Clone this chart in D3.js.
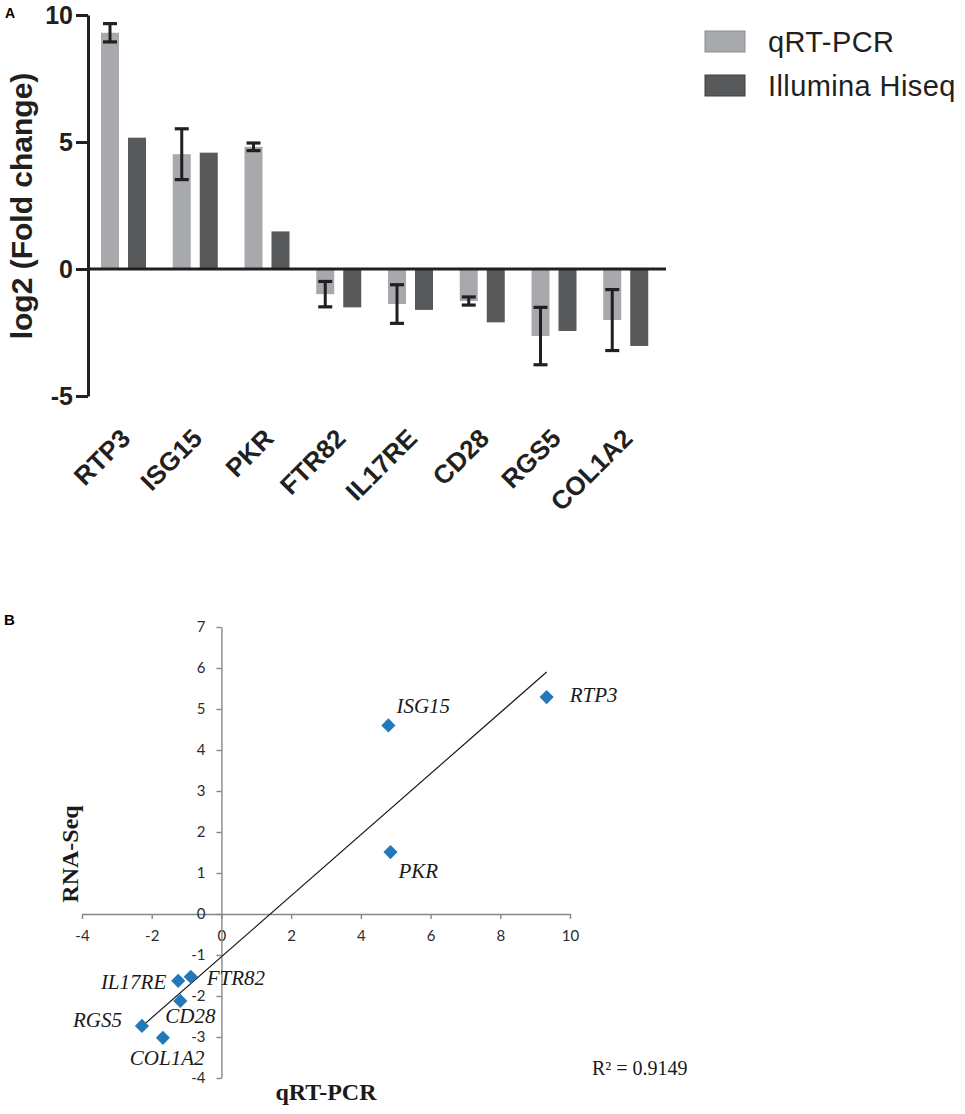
<!DOCTYPE html>
<html><head><meta charset="utf-8">
<script src="https://cdn.jsdelivr.net/npm/d3@7"></script>
<style>body{margin:0;background:#fff}</style>
</head><body>
<svg id="chart" width="965" height="1114"></svg>
<script>
// ---------- data ----------
const genes = ["RTP3","ISG15","PKR","FTR82","IL17RE","CD28","RGS5","COL1A2"];
const seriesNames = ["qRT-PCR","Illumina Hiseq"];
const qrtPcr   = [9.30, 4.52, 4.81, -0.99, -1.38, -1.26, -2.64, -2.01];
const qrtErr   = [0.36, 1.00, 0.15, 0.50, 0.76, 0.16, 1.13, 1.20];
const illumina = [5.17, 4.58, 1.48, -1.51, -1.61, -2.10, -2.44, -3.03];
const yTicksA  = [-5, 0, 5, 10];

const scatterQrt    = [9.33, 4.79, 4.85, -0.88, -1.24, -1.18, -2.28, -1.68];
const scatterRnaSeq = [5.29, 4.60, 1.51, -1.53, -1.63, -2.12, -2.73, -3.02];
const xTicksB = [-4, -2, 0, 2, 4, 6, 8, 10];
const yTicksB = [-4, -3, -2, -1, 0, 1, 2, 3, 4, 5, 6, 7];
const r2Text = "R\u00B2 = 0.9149";

// ---------- layout (not data) ----------
const colLight = "#a7a9ac", colDark = "#58595b", ink = "#231f20";
const labelOffsets = { // dx, dy, anchor for scatter annotations
  RTP3:[23,5,"start"], ISG15:[8,-12,"start"], PKR:[8,26,"start"], FTR82:[16,8,"start"],
  IL17RE:[-12,8,"end"], CD28:[-15,22,"start"], RGS5:[-20,1,"end"], COL1A2:[-33,27,"start"]
};
const plainFmt = d => String(d);

const svg = d3.select("#chart");

// ================= Panel A =================
const sans = "'Liberation Sans', Arial, Helvetica, sans-serif";
const gA = svg.append("g");
const yA = d3.scaleLinear().domain([-5, 10]).range([396, 15]);
const xA = d3.scaleBand().domain(genes).range([88, 662]).padding(0);
const xSub = d3.scaleBand().domain(seriesNames).range([13, 58]).paddingInner(1/3).paddingOuter(0);

svg.append("text").attr("x", 5).attr("y", 18).text("A")
  .style("font-family", sans).style("font-weight", "bold").style("font-size", "14px");

// bars
const barData = [];
genes.forEach((g, i) => {
  barData.push({g, s: seriesNames[0], v: qrtPcr[i]});
  barData.push({g, s: seriesNames[1], v: illumina[i]});
});
gA.selectAll("rect.bar").data(barData).enter().append("rect")
  .attr("class", "bar")
  .attr("x", d => xA(d.g) + xSub(d.s))
  .attr("width", xSub.bandwidth())
  .attr("y", d => yA(Math.max(0, d.v)))
  .attr("height", d => Math.abs(yA(d.v) - yA(0)))
  .attr("fill", d => d.s === seriesNames[0] ? colLight : colDark);

// error bars
const errG = gA.selectAll("g.err").data(genes).enter().append("g").attr("class", "err");
errG.each(function(g, i) {
  const cx = xA(g) + xSub(seriesNames[0]) + xSub.bandwidth() / 2;
  const hi = yA(qrtPcr[i] + qrtErr[i]), lo = yA(qrtPcr[i] - qrtErr[i]);
  const s = d3.select(this);
  s.append("line").attr("x1", cx).attr("x2", cx).attr("y1", hi).attr("y2", lo)
    .attr("stroke", ink).attr("stroke-width", 3);
  [hi, lo].forEach(y => s.append("line").attr("x1", cx - 7).attr("x2", cx + 7)
    .attr("y1", y).attr("y2", y).attr("stroke", ink).attr("stroke-width", 3.2));
});

// zero line
gA.append("line").attr("x1", 88).attr("x2", 666).attr("y1", yA(0)).attr("y2", yA(0))
  .attr("stroke", ink).attr("stroke-width", 3);

// y axis
const axA = gA.append("g").attr("transform", "translate(88,0)")
  .call(d3.axisLeft(yA).tickValues(yTicksA).tickFormat(plainFmt).tickSize(12).tickSizeOuter(0).tickPadding(3));
axA.select(".domain").attr("stroke", ink).attr("stroke-width", 3);
axA.selectAll(".tick line").attr("stroke", ink).attr("stroke-width", 3);
axA.selectAll(".tick text").attr("fill", ink)
  .style("font-family", sans).style("font-weight", "bold").style("font-size", "25px");

gA.append("text").attr("transform", "translate(21,206) rotate(-90)")
  .attr("text-anchor", "middle").attr("dominant-baseline", "central")
  .text("log2 (Fold change)").attr("fill", ink)
  .style("font-family", sans).style("font-weight", "bold").style("font-size", "30px");

// x labels
gA.selectAll("text.xl").data(genes).enter().append("text").attr("class", "xl")
  .attr("transform", g => `translate(${xA(g) + xA.bandwidth() / 2 + 8},440) rotate(-45)`)
  .attr("text-anchor", "end").text(g => g).attr("fill", ink)
  .style("font-family", sans).style("font-weight", "bold").style("font-size", "26px");

// legend
const leg = gA.selectAll("g.leg").data(seriesNames).enter().append("g").attr("class", "leg")
  .attr("transform", (d, i) => `translate(705,${31 + i * 44})`);
leg.append("rect").attr("width", 40).attr("height", 21)
  .attr("fill", (d, i) => i === 0 ? colLight : colDark)
  .attr("stroke", (d, i) => i === 0 ? "#8c8e91" : "#3e3f41").attr("stroke-width", 1);
leg.append("text").attr("x", 63).attr("y", 21).text(d => d).attr("fill", ink)
  .style("font-family", sans).style("font-size", "29px").style("letter-spacing", "0.4px");

// ================= Panel B =================
const serif = "'Liberation Serif', 'Times New Roman', serif";
const gB = svg.append("g");
svg.append("text").attr("x", 4).attr("y", 625).text("B")
  .style("font-family", sans).style("font-weight", "bold").style("font-size", "15px");

const xB = d3.scaleLinear().domain([-4, 10]).range([82, 570]);
const yB = d3.scaleLinear().domain([-4, 7]).range([1078, 627]);
const axisCol = "#878787";

const axX = gB.append("g").attr("transform", `translate(0,${yB(0)})`)
  .call(d3.axisBottom(xB).tickValues(xTicksB).tickFormat(plainFmt).tickSize(5).tickSizeOuter(0).tickPadding(11));
const axY = gB.append("g").attr("transform", `translate(${xB(0)},0)`)
  .call(d3.axisLeft(yB).tickValues(yTicksB).tickFormat(plainFmt).tickSize(5).tickSizeOuter(0).tickPadding(11));
[axX, axY].forEach(a => {
  a.select(".domain").attr("stroke", axisCol).attr("stroke-width", 1.4);
  a.selectAll(".tick line").attr("stroke", axisCol).attr("stroke-width", 1.4);
  a.selectAll(".tick text").attr("fill", "#2b2b2b")
    .style("font-family", "Lato, 'Open Sans', sans-serif").style("font-size", "15px");
});

// regression line from the data
const n = scatterQrt.length;
const mx = d3.mean(scatterQrt), my = d3.mean(scatterRnaSeq);
let sxy = 0, sxx = 0;
for (let i = 0; i < n; i++) { sxy += (scatterQrt[i] - mx) * (scatterRnaSeq[i] - my); sxx += (scatterQrt[i] - mx) ** 2; }
const slope = sxy / sxx, icpt = my - slope * mx;
const [xmin, xmax] = d3.extent(scatterQrt);
gB.append("line")
  .attr("x1", xB(xmin)).attr("y1", yB(icpt + slope * xmin))
  .attr("x2", xB(xmax)).attr("y2", yB(icpt + slope * xmax))
  .attr("stroke", "#1a1a1a").attr("stroke-width", 1.2);

// points
const pts = genes.map((g, i) => ({g, x: scatterQrt[i], y: scatterRnaSeq[i]}));
gB.selectAll("path.pt").data(pts).enter().append("path").attr("class", "pt")
  .attr("d", d3.symbol(d3.symbolSquare, 100))
  .attr("transform", d => `translate(${xB(d.x)},${yB(d.y)}) rotate(45)`)
  .attr("fill", "#2179b9");

gB.selectAll("text.pl").data(pts).enter().append("text").attr("class", "pl")
  .attr("x", d => xB(d.x) + labelOffsets[d.g][0])
  .attr("y", d => yB(d.y) + labelOffsets[d.g][1])
  .attr("text-anchor", d => labelOffsets[d.g][2])
  .text(d => d.g).attr("fill", "#1a1a1a")
  .style("font-family", serif).style("font-style", "italic").style("font-size", "21px");

gB.append("text").attr("transform", "translate(70,854) rotate(-90)")
  .attr("text-anchor", "middle").attr("dominant-baseline", "central")
  .text("RNA-Seq").attr("fill", "#1a1a1a")
  .style("font-family", serif).style("font-weight", "bold").style("font-size", "24px");
gB.append("text").attr("x", 326).attr("y", 1100).attr("text-anchor", "middle")
  .text("qRT-PCR").attr("fill", "#1a1a1a")
  .style("font-family", serif).style("font-weight", "bold").style("font-size", "24px");

gB.append("text").attr("x", 592).attr("y", 1075).text(r2Text).attr("fill", "#1a1a1a")
  .style("font-family", serif).style("font-size", "20px");
</script>
</body></html>
